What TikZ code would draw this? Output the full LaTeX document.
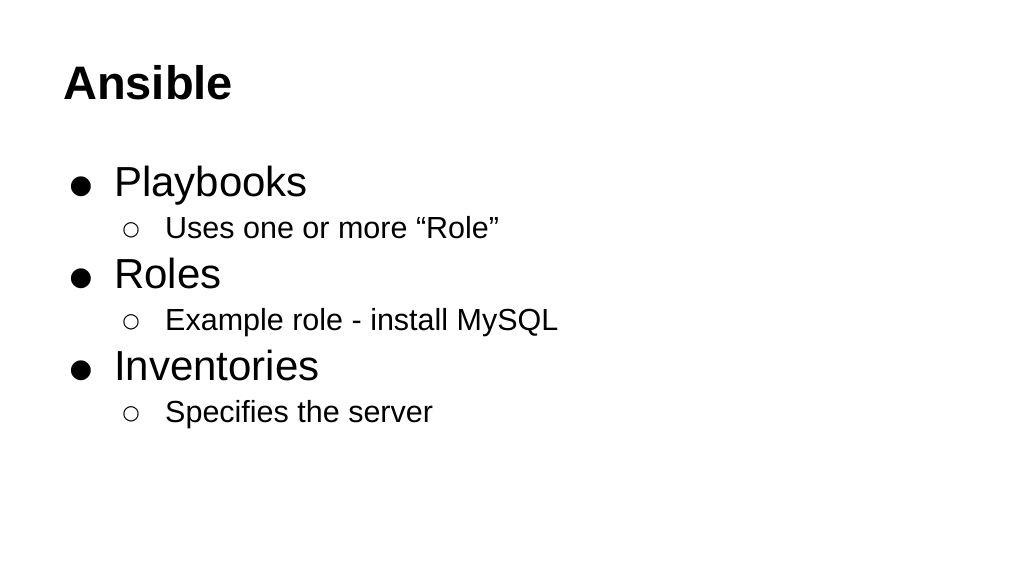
\documentclass[tikz,border=0pt]{standalone}
\usepackage{fontspec}
\setmainfont{Liberation Sans}
\newfontfamily\symfont{DejaVu Sans}
\begin{document}
\begin{tikzpicture}[x=1pt,y=-1pt,
  title/.style={anchor=base west,inner sep=0pt,font=\fontsize{47}{50}\selectfont\bfseries},
  lone/.style={anchor=base west,inner sep=0pt,font=\fontsize{42}{46}\selectfont},
  ltwo/.style={anchor=base west,inner sep=0pt,font=\fontsize{30.5}{34}\selectfont},
  bone/.style={anchor=base,inner sep=0pt,font=\symfont\fontsize{26}{28}\selectfont},
  btwo/.style={anchor=base,inner sep=0pt,font=\symfont\fontsize{20}{22}\selectfont}]
\useasboundingbox[fill=white] (0,0) rectangle (1024,576);
\node[title] (t) at (63,99) {Ansible};
\node[bone] (b1) at (81,193) {●};
\node[lone] (l1) at (114,196) {Playbooks};
\node[btwo] (c1) at (131,235) {○};
\node[ltwo] (s1) at (165,238) {Uses one or more “Role”};
\node[bone] (b2) at (81,285) {●};
\node[lone] (l2) at (114,288) {Roles};
\node[btwo] (c2) at (131,327) {○};
\node[ltwo] (s2) at (165,330) {Example role - install MySQL};
\node[bone] (b3) at (81,377) {●};
\node[lone] (l3) at (114,380) {Inventories};
\node[btwo] (c3) at (131,419) {○};
\node[ltwo] (s3) at (165,422) {Specifies the server};
\end{tikzpicture}
\end{document}
